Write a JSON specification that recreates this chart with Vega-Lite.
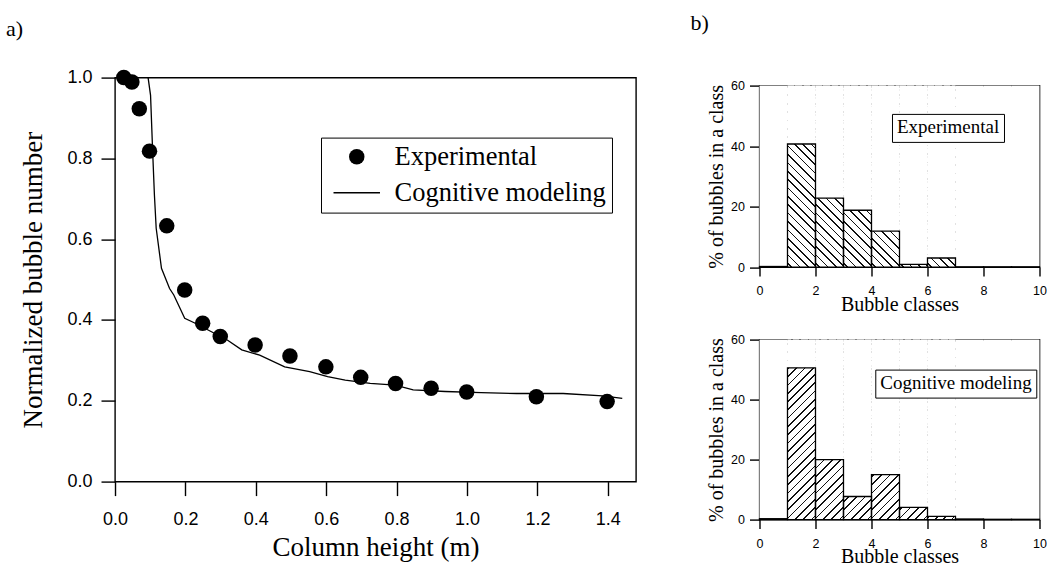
{
  "$schema": "https://vega.github.io/schema/vega-lite/v6.json",
  "padding": {"left": 5, "top": 11.6, "right": 0, "bottom": 0},
  "background": "white",
  "config": {
    "view": {"stroke": "black", "strokeWidth": 1.4},
    "font": "Liberation Serif",
    "axis": {"domain": false, "grid": false, "tickColor": "black", "tickWidth": 1.4, "labelColor": "black", "titleColor": "black", "labelFont": "Liberation Sans", "titleFont": "Liberation Serif", "titleFontWeight": "normal", "labelFlush": false, "labelOverlap": false},
    "title": {"font": "Liberation Serif", "fontSize": 22, "fontWeight": "normal", "color": "black", "anchor": "start"}
  },
  "datasets": {
    "exp": [
      {"h": 0.025, "n": 1.0, "series": "Experimental"},
      {"h": 0.048, "n": 0.989, "series": "Experimental"},
      {"h": 0.069, "n": 0.923, "series": "Experimental"},
      {"h": 0.098, "n": 0.818, "series": "Experimental"},
      {"h": 0.147, "n": 0.633, "series": "Experimental"},
      {"h": 0.198, "n": 0.474, "series": "Experimental"},
      {"h": 0.249, "n": 0.392, "series": "Experimental"},
      {"h": 0.299, "n": 0.359, "series": "Experimental"},
      {"h": 0.398, "n": 0.338, "series": "Experimental"},
      {"h": 0.497, "n": 0.311, "series": "Experimental"},
      {"h": 0.599, "n": 0.284, "series": "Experimental"},
      {"h": 0.698, "n": 0.258, "series": "Experimental"},
      {"h": 0.797, "n": 0.243, "series": "Experimental"},
      {"h": 0.898, "n": 0.231, "series": "Experimental"},
      {"h": 0.999, "n": 0.222, "series": "Experimental"},
      {"h": 1.197, "n": 0.21, "series": "Experimental"},
      {"h": 1.398, "n": 0.198, "series": "Experimental"}
    ],
    "model": [
      {"h": 0.094, "n": 1.0},
      {"h": 0.101, "n": 0.956},
      {"h": 0.107, "n": 0.816},
      {"h": 0.112, "n": 0.709},
      {"h": 0.117, "n": 0.627},
      {"h": 0.132, "n": 0.528},
      {"h": 0.155, "n": 0.478},
      {"h": 0.167, "n": 0.462},
      {"h": 0.198, "n": 0.404},
      {"h": 0.228, "n": 0.392},
      {"h": 0.274, "n": 0.371},
      {"h": 0.32, "n": 0.35},
      {"h": 0.36, "n": 0.326},
      {"h": 0.411, "n": 0.313},
      {"h": 0.482, "n": 0.284},
      {"h": 0.553, "n": 0.272},
      {"h": 0.604, "n": 0.26},
      {"h": 0.654, "n": 0.251},
      {"h": 0.725, "n": 0.243},
      {"h": 0.796, "n": 0.239},
      {"h": 0.847, "n": 0.227},
      {"h": 0.938, "n": 0.223},
      {"h": 1.04, "n": 0.22},
      {"h": 1.141, "n": 0.218},
      {"h": 1.273, "n": 0.218},
      {"h": 1.385, "n": 0.212},
      {"h": 1.441, "n": 0.206}
    ],
    "hist": [
      {"panel": "Experimental", "start": 0, "end": 1, "pct": 0.2},
      {"panel": "Experimental", "start": 1, "end": 2, "pct": 40.7},
      {"panel": "Experimental", "start": 2, "end": 3, "pct": 22.8},
      {"panel": "Experimental", "start": 3, "end": 4, "pct": 18.8},
      {"panel": "Experimental", "start": 4, "end": 5, "pct": 11.9},
      {"panel": "Experimental", "start": 5, "end": 6, "pct": 0.9},
      {"panel": "Experimental", "start": 6, "end": 7, "pct": 3.0},
      {"panel": "Experimental", "start": 7, "end": 8, "pct": 0.1},
      {"panel": "Experimental", "start": 8, "end": 9, "pct": 0.1},
      {"panel": "Experimental", "start": 9, "end": 10, "pct": 0.1},
      {"panel": "Cognitive modeling", "start": 0, "end": 1, "pct": 0.3},
      {"panel": "Cognitive modeling", "start": 1, "end": 2, "pct": 50.6},
      {"panel": "Cognitive modeling", "start": 2, "end": 3, "pct": 20.0},
      {"panel": "Cognitive modeling", "start": 3, "end": 4, "pct": 7.7},
      {"panel": "Cognitive modeling", "start": 4, "end": 5, "pct": 15.0},
      {"panel": "Cognitive modeling", "start": 5, "end": 6, "pct": 4.1},
      {"panel": "Cognitive modeling", "start": 6, "end": 7, "pct": 1.1},
      {"panel": "Cognitive modeling", "start": 7, "end": 8, "pct": 0.2},
      {"panel": "Cognitive modeling", "start": 8, "end": 9, "pct": 0.1},
      {"panel": "Cognitive modeling", "start": 9, "end": 10, "pct": 0.1}
    ]
  },
  "resolve": {"scale": {"shape": "independent", "fill": "independent"}, "legend": {"shape": "independent", "fill": "independent"}},
  "spacing": 53.5,
  "hconcat": [
    {
      "title": {"text": "a)", "anchor": "start", "dx": -14, "offset": 27.5},
      "width": 521,
      "height": 404,
      "resolve": {"scale": {"shape": "independent"}, "legend": {"shape": "independent"}},
      "layer": [
        {
          "data": {"name": "model"},
          "mark": {"type": "line", "color": "black", "strokeWidth": 1.3},
          "encoding": {
            "x": {"field": "h", "type": "quantitative", "title": "Column height (m)", "scale": {"domain": [0, 1.48], "nice": false, "zero": false},
              "axis": {"values": [0, 0.2, 0.4, 0.6, 0.8, 1.0, 1.2, 1.4], "format": ".1f", "labelFontSize": 18, "tickSize": 14, "labelPadding": 15, "titleFontSize": 27, "titlePadding": 6}},
            "y": {"field": "n", "type": "quantitative", "title": "Normalized bubble number", "scale": {"domain": [0, 1], "nice": false},
              "axis": {"values": [0, 0.2, 0.4, 0.6, 0.8, 1.0], "format": ".1f", "labelFontSize": 18, "tickSize": 14, "labelPadding": 9, "titleFontSize": 27, "titlePadding": 19}}
          }
        },
        {
          "data": {"name": "exp"},
          "mark": {"type": "point", "filled": true, "color": "black", "opacity": 1, "size": 240},
          "encoding": {
            "x": {"field": "h", "type": "quantitative"},
            "y": {"field": "n", "type": "quantitative"},
            "shape": {"field": "series", "type": "nominal",
              "scale": {"domain": ["Experimental", "Cognitive modeling"], "range": ["circle", "M-3,-0.1L3,-0.1L3,0.1L-3,0.1Z"]},
              "legend": {"title": null, "orient": "none", "legendX": 206, "legendY": 60, "labelFont": "Liberation Serif", "labelFontSize": 26.5, "labelColor": "black", "labelLimit": 400, "strokeColor": "black", "fillColor": "white", "padding": 6, "rowPadding": 9, "symbolSize": 240, "symbolOffset": 16.5, "labelOffset": 24.5, "symbolStrokeWidth": 0.5, "symbolStrokeColor": "black", "symbolFillColor": "black",
                "encode": {"symbols": {"stroke": {"value": "black"}, "strokeWidth": {"value": 0.5}, "fill": {"value": "black"}, "opacity": {"value": 1}}}}
            }
          }
        }
      ]
    },
    {
      "spacing": 0,
      "resolve": {"scale": {"fill": "independent"}, "legend": {"fill": "independent"}},
      "vconcat": [
        {
          "title": {"text": "b)", "anchor": "start", "dx": -69, "offset": 42.1},
          "width": 280,
          "height": 1,
          "view": {"stroke": null},
          "data": {"values": []},
          "mark": {"type": "point", "opacity": 0},
          "encoding": {}
        },
        {
          "width": 280,
          "height": 181.5,
          "data": {"name": "hist"},
          "transform": [{"filter": "datum.panel == 'Experimental'"}],
          "encoding": {
            "x": {"field": "start", "type": "quantitative", "title": "Bubble classes", "scale": {"domain": [0, 10], "nice": false},
              "axis": {"values": [0, 2, 4, 6, 8, 10], "labelFontSize": 12.5, "tickSize": 9, "labelPadding": 8.5, "titleFontSize": 20, "titlePadding": -3}},
            "x2": {"field": "end"}
          },
          "layer": [
            {
              "transform": [{"filter": "datum.pct > 0.5"}],
              "mark": {"type": "bar", "strokeWidth": 0, "fill": {"gradient": "linear", "x1": 0, "y1": 1, "x2": 0.1739, "y2": -0.1275, "stops": [
                {"offset": 0, "color": "white"},
                {"offset": 0.016, "color": "white"}, {"offset": 0.016, "color": "#111"}, {"offset": 0.024, "color": "#111"}, {"offset": 0.024, "color": "white"},
                {"offset": 0.056, "color": "white"}, {"offset": 0.056, "color": "#111"}, {"offset": 0.064, "color": "#111"}, {"offset": 0.064, "color": "white"},
                {"offset": 0.096, "color": "white"}, {"offset": 0.096, "color": "#111"}, {"offset": 0.104, "color": "#111"}, {"offset": 0.104, "color": "white"},
                {"offset": 0.136, "color": "white"}, {"offset": 0.136, "color": "#111"}, {"offset": 0.144, "color": "#111"}, {"offset": 0.144, "color": "white"},
                {"offset": 0.176, "color": "white"}, {"offset": 0.176, "color": "#111"}, {"offset": 0.184, "color": "#111"}, {"offset": 0.184, "color": "white"},
                {"offset": 0.216, "color": "white"}, {"offset": 0.216, "color": "#111"}, {"offset": 0.224, "color": "#111"}, {"offset": 0.224, "color": "white"},
                {"offset": 0.256, "color": "white"}, {"offset": 0.256, "color": "#111"}, {"offset": 0.264, "color": "#111"}, {"offset": 0.264, "color": "white"},
                {"offset": 0.296, "color": "white"}, {"offset": 0.296, "color": "#111"}, {"offset": 0.304, "color": "#111"}, {"offset": 0.304, "color": "white"},
                {"offset": 0.336, "color": "white"}, {"offset": 0.336, "color": "#111"}, {"offset": 0.344, "color": "#111"}, {"offset": 0.344, "color": "white"},
                {"offset": 0.376, "color": "white"}, {"offset": 0.376, "color": "#111"}, {"offset": 0.384, "color": "#111"}, {"offset": 0.384, "color": "white"},
                {"offset": 0.416, "color": "white"}, {"offset": 0.416, "color": "#111"}, {"offset": 0.424, "color": "#111"}, {"offset": 0.424, "color": "white"},
                {"offset": 0.456, "color": "white"}, {"offset": 0.456, "color": "#111"}, {"offset": 0.464, "color": "#111"}, {"offset": 0.464, "color": "white"},
                {"offset": 0.496, "color": "white"}, {"offset": 0.496, "color": "#111"}, {"offset": 0.504, "color": "#111"}, {"offset": 0.504, "color": "white"},
                {"offset": 0.536, "color": "white"}, {"offset": 0.536, "color": "#111"}, {"offset": 0.544, "color": "#111"}, {"offset": 0.544, "color": "white"},
                {"offset": 0.576, "color": "white"}, {"offset": 0.576, "color": "#111"}, {"offset": 0.584, "color": "#111"}, {"offset": 0.584, "color": "white"},
                {"offset": 0.616, "color": "white"}, {"offset": 0.616, "color": "#111"}, {"offset": 0.624, "color": "#111"}, {"offset": 0.624, "color": "white"},
                {"offset": 0.656, "color": "white"}, {"offset": 0.656, "color": "#111"}, {"offset": 0.664, "color": "#111"}, {"offset": 0.664, "color": "white"},
                {"offset": 0.696, "color": "white"}, {"offset": 0.696, "color": "#111"}, {"offset": 0.704, "color": "#111"}, {"offset": 0.704, "color": "white"},
                {"offset": 0.736, "color": "white"}, {"offset": 0.736, "color": "#111"}, {"offset": 0.744, "color": "#111"}, {"offset": 0.744, "color": "white"},
                {"offset": 0.776, "color": "white"}, {"offset": 0.776, "color": "#111"}, {"offset": 0.784, "color": "#111"}, {"offset": 0.784, "color": "white"},
                {"offset": 0.816, "color": "white"}, {"offset": 0.816, "color": "#111"}, {"offset": 0.824, "color": "#111"}, {"offset": 0.824, "color": "white"},
                {"offset": 0.856, "color": "white"}, {"offset": 0.856, "color": "#111"}, {"offset": 0.864, "color": "#111"}, {"offset": 0.864, "color": "white"},
                {"offset": 0.896, "color": "white"}, {"offset": 0.896, "color": "#111"}, {"offset": 0.904, "color": "#111"}, {"offset": 0.904, "color": "white"},
                {"offset": 0.936, "color": "white"}, {"offset": 0.936, "color": "#111"}, {"offset": 0.944, "color": "#111"}, {"offset": 0.944, "color": "white"},
                {"offset": 0.976, "color": "white"}, {"offset": 0.976, "color": "#111"}, {"offset": 0.984, "color": "#111"}, {"offset": 0.984, "color": "white"},
                {"offset": 1, "color": "white"}
              ]}},
              "encoding": {
                "y": {"datum": 60, "type": "quantitative", "title": "% of bubbles in a class", "scale": {"domain": [0, 60], "nice": false},
                  "axis": {"title": "% of bubbles in a class", "values": [0, 10, 20, 30, 40, 50, 60], "labelFontSize": 12.5, "tickSize": 10, "labelPadding": 5, "titleFontSize": 20, "titlePadding": 4}},
                "y2": {"datum": 0}
              }
            },
            {
              "mark": {"type": "bar", "strokeWidth": 0},
              "encoding": {
                "y": {"field": "pct", "type": "quantitative", "title": "% of bubbles in a class"},
                "y2": {"datum": 60},
                "fill": {"field": "panel", "type": "nominal", "scale": {"range": ["white"]},
                  "legend": {"title": null, "orient": "none", "legendX": 132.5, "legendY": 28.3, "labelFont": "Liberation Serif", "labelFontSize": 19, "labelColor": "black", "labelLimit": 300, "strokeColor": "black", "fillColor": "white", "padding": 4, "symbolSize": 0, "symbolStrokeWidth": 0, "symbolOpacity": 0, "labelOffset": -18}}
              }
            },
            {
              "mark": {"type": "bar", "fill": "white", "fillOpacity": 0, "stroke": "black", "strokeWidth": 1.3},
              "encoding": {
                "y": {"field": "pct", "type": "quantitative", "title": "% of bubbles in a class"},
                "y2": {"datum": 0}
              }
            }
          ]
        },
        {
          "title": {"text": ".", "color": "white", "fontSize": 10, "offset": 7},
          "width": 280,
          "height": 180,
          "data": {"name": "hist"},
          "transform": [{"filter": "datum.panel == 'Cognitive modeling'"}],
          "encoding": {
            "x": {"field": "start", "type": "quantitative", "title": "Bubble classes", "scale": {"domain": [0, 10], "nice": false},
              "axis": {"values": [0, 2, 4, 6, 8, 10], "labelFontSize": 12.5, "tickSize": 9, "labelPadding": 8.5, "titleFontSize": 20, "titlePadding": -3}},
            "x2": {"field": "end"}
          },
          "layer": [
            {
              "transform": [{"filter": "datum.pct > 0.5"}],
              "mark": {"type": "bar", "strokeWidth": 0, "fill": {"gradient": "linear", "x1": 0, "y1": 0, "x2": 0.1755, "y2": 1.1282, "stops": [
                {"offset": 0, "color": "white"},
                {"offset": 0.016, "color": "white"}, {"offset": 0.016, "color": "#111"}, {"offset": 0.024, "color": "#111"}, {"offset": 0.024, "color": "white"},
                {"offset": 0.056, "color": "white"}, {"offset": 0.056, "color": "#111"}, {"offset": 0.064, "color": "#111"}, {"offset": 0.064, "color": "white"},
                {"offset": 0.096, "color": "white"}, {"offset": 0.096, "color": "#111"}, {"offset": 0.104, "color": "#111"}, {"offset": 0.104, "color": "white"},
                {"offset": 0.136, "color": "white"}, {"offset": 0.136, "color": "#111"}, {"offset": 0.144, "color": "#111"}, {"offset": 0.144, "color": "white"},
                {"offset": 0.176, "color": "white"}, {"offset": 0.176, "color": "#111"}, {"offset": 0.184, "color": "#111"}, {"offset": 0.184, "color": "white"},
                {"offset": 0.216, "color": "white"}, {"offset": 0.216, "color": "#111"}, {"offset": 0.224, "color": "#111"}, {"offset": 0.224, "color": "white"},
                {"offset": 0.256, "color": "white"}, {"offset": 0.256, "color": "#111"}, {"offset": 0.264, "color": "#111"}, {"offset": 0.264, "color": "white"},
                {"offset": 0.296, "color": "white"}, {"offset": 0.296, "color": "#111"}, {"offset": 0.304, "color": "#111"}, {"offset": 0.304, "color": "white"},
                {"offset": 0.336, "color": "white"}, {"offset": 0.336, "color": "#111"}, {"offset": 0.344, "color": "#111"}, {"offset": 0.344, "color": "white"},
                {"offset": 0.376, "color": "white"}, {"offset": 0.376, "color": "#111"}, {"offset": 0.384, "color": "#111"}, {"offset": 0.384, "color": "white"},
                {"offset": 0.416, "color": "white"}, {"offset": 0.416, "color": "#111"}, {"offset": 0.424, "color": "#111"}, {"offset": 0.424, "color": "white"},
                {"offset": 0.456, "color": "white"}, {"offset": 0.456, "color": "#111"}, {"offset": 0.464, "color": "#111"}, {"offset": 0.464, "color": "white"},
                {"offset": 0.496, "color": "white"}, {"offset": 0.496, "color": "#111"}, {"offset": 0.504, "color": "#111"}, {"offset": 0.504, "color": "white"},
                {"offset": 0.536, "color": "white"}, {"offset": 0.536, "color": "#111"}, {"offset": 0.544, "color": "#111"}, {"offset": 0.544, "color": "white"},
                {"offset": 0.576, "color": "white"}, {"offset": 0.576, "color": "#111"}, {"offset": 0.584, "color": "#111"}, {"offset": 0.584, "color": "white"},
                {"offset": 0.616, "color": "white"}, {"offset": 0.616, "color": "#111"}, {"offset": 0.624, "color": "#111"}, {"offset": 0.624, "color": "white"},
                {"offset": 0.656, "color": "white"}, {"offset": 0.656, "color": "#111"}, {"offset": 0.664, "color": "#111"}, {"offset": 0.664, "color": "white"},
                {"offset": 0.696, "color": "white"}, {"offset": 0.696, "color": "#111"}, {"offset": 0.704, "color": "#111"}, {"offset": 0.704, "color": "white"},
                {"offset": 0.736, "color": "white"}, {"offset": 0.736, "color": "#111"}, {"offset": 0.744, "color": "#111"}, {"offset": 0.744, "color": "white"},
                {"offset": 0.776, "color": "white"}, {"offset": 0.776, "color": "#111"}, {"offset": 0.784, "color": "#111"}, {"offset": 0.784, "color": "white"},
                {"offset": 0.816, "color": "white"}, {"offset": 0.816, "color": "#111"}, {"offset": 0.824, "color": "#111"}, {"offset": 0.824, "color": "white"},
                {"offset": 0.856, "color": "white"}, {"offset": 0.856, "color": "#111"}, {"offset": 0.864, "color": "#111"}, {"offset": 0.864, "color": "white"},
                {"offset": 0.896, "color": "white"}, {"offset": 0.896, "color": "#111"}, {"offset": 0.904, "color": "#111"}, {"offset": 0.904, "color": "white"},
                {"offset": 0.936, "color": "white"}, {"offset": 0.936, "color": "#111"}, {"offset": 0.944, "color": "#111"}, {"offset": 0.944, "color": "white"},
                {"offset": 0.976, "color": "white"}, {"offset": 0.976, "color": "#111"}, {"offset": 0.984, "color": "#111"}, {"offset": 0.984, "color": "white"},
                {"offset": 1, "color": "white"}
              ]}},
              "encoding": {
                "y": {"datum": 60, "type": "quantitative", "title": "% of bubbles in a class", "scale": {"domain": [0, 60], "nice": false},
                  "axis": {"title": "% of bubbles in a class", "values": [0, 10, 20, 30, 40, 50, 60], "labelFontSize": 12.5, "tickSize": 10, "labelPadding": 5, "titleFontSize": 20, "titlePadding": 4}},
                "y2": {"datum": 0}
              }
            },
            {
              "mark": {"type": "bar", "strokeWidth": 0},
              "encoding": {
                "y": {"field": "pct", "type": "quantitative", "title": "% of bubbles in a class"},
                "y2": {"datum": 60},
                "fill": {"field": "panel", "type": "nominal", "scale": {"range": ["white"]},
                  "legend": {"title": null, "orient": "none", "legendX": 115.8, "legendY": 30, "labelFont": "Liberation Serif", "labelFontSize": 19, "labelColor": "black", "labelLimit": 300, "strokeColor": "black", "fillColor": "white", "padding": 4, "symbolSize": 0, "symbolStrokeWidth": 0, "symbolOpacity": 0, "labelOffset": -18}}
              }
            },
            {
              "mark": {"type": "bar", "fill": "white", "fillOpacity": 0, "stroke": "black", "strokeWidth": 1.3},
              "encoding": {
                "y": {"field": "pct", "type": "quantitative", "title": "% of bubbles in a class"},
                "y2": {"datum": 0}
              }
            }
          ]
        }
      ]
    }
  ]
}
